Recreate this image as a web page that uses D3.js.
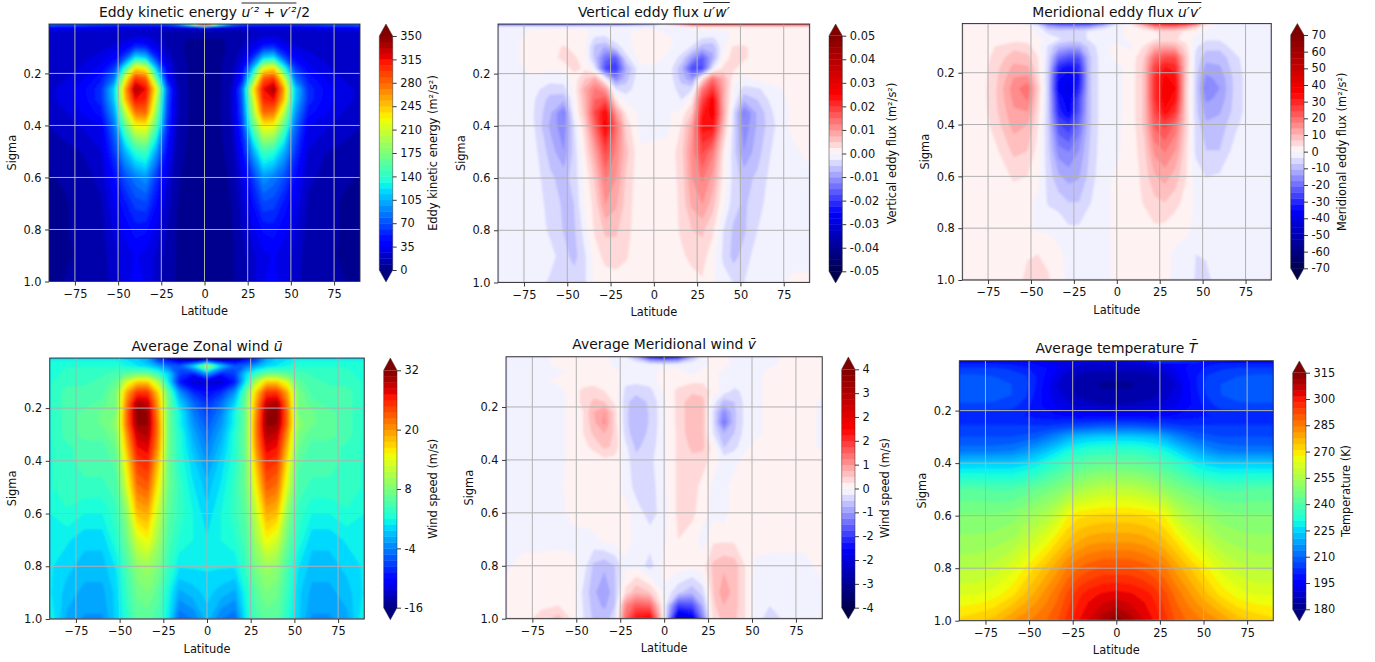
<!DOCTYPE html>
<html><head><meta charset="utf-8">
<script src="https://cdn.jsdelivr.net/npm/d3@7/dist/d3.min.js"></script>
<style>html,body{margin:0;padding:0;background:#fff}svg{display:block}text{font-family:"DejaVu Sans",sans-serif;fill:#111}</style>
</head><body><svg id="fig" width="1375" height="662"></svg>
<script>
// Axis nodes of the grids
const latitudes=[-90,-80,-70,-60,-52,-46,-40,-34,-28,-22,-16,-8,0,8,16,22,28,34,40,46,52,60,70,80,90];
const sigmaNodes=[.01,.02,.04,.07,.1,.14,.18,.22,.26,.3,.35,.4,.5,.6,.7,.8,.9,1];
const meridionalWindSigma=[.01,.02,.04,.07,.1,.14,.18,.22,.26,.3,.35,.4,.5,.6,.7,.8,.9,.95,1];
const latTicks=[-75,-50,-25,0,25,50,75];
const sigmaTicks=[.2,.4,.6,.8,1];

// Eddy kinetic energy (m2/s2)
const ekeValues=[
[90,85,80,75,70,70,70,70,75,80,100,180,360,180,100,80,75,70,70,70,70,75,80,85,90],
[45,42,40,38,35,35,35,35,32,30,30,35,40,35,30,30,32,35,35,35,35,38,40,42,45],
[25,24,22,20,20,20,20,20,18,15,12,12,14,12,12,15,18,20,20,20,20,20,22,24,25],
[22,20,20,20,22,26,32,30,24,14,10,8,8,8,10,14,24,30,32,26,22,20,20,20,22],
[20,20,22,24,28,38,60,56,32,18,10,7,6,7,10,18,32,56,60,38,28,24,22,20,20],
[20,22,24,30,42,70,125,115,60,26,12,7,5,7,12,26,60,115,125,70,42,30,24,22,20],
[20,22,28,38,65,140,235,220,110,38,14,7,5,7,14,38,110,220,235,140,65,38,28,22,20],
[22,26,34,50,85,215,300,285,165,50,16,6,5,6,16,50,165,285,300,215,85,50,34,26,22],
[24,30,42,58,120,255,340,315,225,80,20,6,5,6,20,80,225,315,340,255,120,58,42,30,24],
[24,30,40,58,115,245,315,305,205,75,20,6,5,6,20,75,205,305,315,245,115,58,40,30,24],
[22,26,36,48,100,200,275,280,185,70,20,6,5,6,20,70,185,280,275,200,100,48,36,26,22],
[18,22,28,35,85,165,225,230,160,62,18,6,5,6,18,62,160,230,225,165,85,35,28,22,18],
[12,15,18,26,65,105,140,150,100,45,14,5,5,5,14,45,100,150,140,105,65,26,18,15,12],
[8,10,14,20,45,70,85,95,62,30,10,5,5,5,10,30,62,95,85,70,45,20,14,10,8],
[6,8,12,16,35,50,65,68,45,22,9,5,5,5,9,22,45,68,65,50,35,16,12,8,6],
[6,8,12,14,28,38,48,46,32,18,8,5,5,5,8,18,32,46,48,38,28,14,12,8,6],
[6,8,10,12,24,30,36,32,24,14,8,6,6,6,8,14,24,32,36,30,24,12,10,8,6],
[8,9,10,12,22,30,38,34,22,12,8,6,6,6,8,12,22,34,38,30,22,12,10,9,8]];

// Vertical eddy flux, in thousandths of m2/s2
const verticalFluxMilli=[
[-22,-22,-22,-22,-22,-22,-20,-18,-18,-18,-16,-12,-8,5,12,22,25,25,25,25,25,25,25,25,25],
[-1,-1,-1,-1,-1,-1,-1,-2,-1.5,-1,-1,-.5,-.5,-.5,-.5,.5,1,1,1,1,1,1,1,1,1],
[-1,-1,.5,.8,.8,.8,.5,-.8,-1.5,-1,-.5,.5,.5,-.3,-.5,-.5,-.5,-.5,-.5,.5,.8,.8,.8,.8,.8],
[-1,-.5,1,1,1,1,.8,-3.5,-3.5,-1.5,-.5,1,1,.3,-.5,-1,-3,-3.5,-.5,.5,1,1,1,1,1],
[-1,-.3,1,1,3,1.5,.5,-6,-8,-4.5,-1,1,1,.3,-1,-3,-7,-7,-.5,3,3,1,1,1,1],
[-.8,-.3,1,1,3.5,3,1,-6,-14,-16,-3.5,.8,.8,-.3,-3.5,-10,-16,-8,1,3.5,3,1,1,1,1],
[-.8,-.5,.8,.5,.8,3.5,2,-2.5,-18,-20,-8,-.6,-.5,-.5,-7,-18,-18,-2.6,3,3,1,.8,.8,.8,.8],
[-.5,-.5,-.5,-1.5,-1.5,1,5,8,-1,-12,-6,-.5,-.5,-.5,-6,-10,3,14,8,1,-.5,.5,.8,.8,.8],
[-.5,-.5,-1.5,-4,-3.5,.8,8,13,10,-2.6,-4,-.5,-.5,-.5,-4,-3,13,20,9,-.5,-3.5,-3,-.5,.5,.5],
[-.5,-.5,-2,-6,-7,0,7,15,17,2.6,-.8,-.5,-.5,-.5,-2.6,1.5,18,26,8,-.5,-7,-5,-1,.5,.5],
[-.5,-.5,-2.2,-7,-13,-.5,6,18,25,10,2,-.5,-.5,-.5,1,5,22,27,9,-3.5,-13,-7,-2,.5,.5],
[-.5,-.5,-2,-8,-12,-3,4,15,26,15,4,-.5,-.5,-.5,2.6,9,24,24,7,-3.5,-12,-7,-2.6,.5,.5],
[-.5,-.5,-1.2,-6,-10,-4,2,9,18,12,6,.2,.4,.6,4,11,18,13,2.6,-4,-10,-6,-1.5,-.5,.5],
[-.5,-.5,-.8,-4.5,-6,-4,.4,5.5,13,10,4.5,.6,.6,.6,3.5,10,13,9,1.6,-3.5,-6,-4.5,-.8,-.5,-.5],
[-.5,-.5,-.7,-3.5,-5.5,-5,.2,3.5,10,8,4,.6,.6,.6,3.2,8,10,6,.3,-4,-5.5,-3.5,-.6,-.5,-.5],
[-.5,-.5,-.5,-3,-5.2,-5.5,-1.5,3,5.5,5.5,3.5,.6,.6,.6,3,5,5.5,3,-2.5,-5.5,-5.5,-2.5,-.5,-.5,-.5],
[-.5,-.5,-.5,-1.5,-4,-6,-3,1,3.5,3.5,2.8,.6,.6,.6,2,3.2,3.5,.8,-3,-6,-4,-1,-.5,-.5,-.5],
[-.5,-.5,-.5,-3,-3.5,-3.5,-3,.5,.8,1.5,1,.5,.5,.5,1,1.5,2.2,.3,-1.5,-2.6,-2.6,-.5,-.5,.3,.3]];

// Meridional eddy flux (m2/s2)
const meridionalFluxValues=[
[.7,.7,.7,.7,-3,-10,-25,-30,-30,-30,-30,-20,-5,3,20,30,35,35,35,25,5,-.7,-.7,-.7,-.7],
[.7,.7,.7,.7,.7,-3,-12,-15,-16,-16,-15,-8,-2,2,8,18,20,20,15,8,1,-.7,-.7,-.7,-.7],
[.7,.7,.7,.7,.7,-.7,-5,-6,-5,-5,-3,-1,-.7,.7,1,3,5,5,3,1,-.7,-.7,-.7,-.7,-.7],
[.7,.7,1,2,2,.7,-1,-3,-5,-5,-3,-.7,-.7,.7,1,3,4,4,2,-1,-3,-3,-1,-.7,-.7],
[.7,.7,3.8,6,5,1,-4,-10,-12,-12,-6,-1,.7,-.7,4,10,12,11,5,-3,-6,-6,-1.2,-.7,-.7],
[.7,1,5,9,8,3.5,-5,-20,-24,-24,-8,-1,.7,1,7,20,24,24,8,-4.5,-9,-9,-4,-.7,-.7],
[.7,1,6,11.5,11,4,-6,-30,-34,-30,-8,-1,-.7,1,8,26,32,30,8,-5,-12,-11,-4.5,-.7,-.7],
[.7,1,6.5,14,15,5,-7,-34,-38,-32,-8,-1,-.7,1,8,28,36,33,8,-6,-15,-13,-5,-.7,-.7],
[.7,1,7,16,20,7,-7,-36,-40,-30,-8,-1,-.7,1,8,28,37,35,7,-6,-18,-14,-5,-.7,-.7],
[.7,1,7,15,18,6,-7,-32,-38,-25,-8,-1,-.7,1,8,28,37,33,7,-6,-15,-13,-5,-.7,-.7],
[.7,.8,6.5,13.5,14,5,-7,-30,-36,-24,-8,-1,-.7,1,8,25,34,28,7,-6,-12,-11,-5,-.7,-.7],
[.7,.7,5.5,12,10.5,3.5,-7,-24,-28,-20,-8,-1,-.5,1,8,22,26,20,7,-5,-10,-9,-4,-.7,-.7],
[.7,.7,3,8,7,2,-6,-16,-18,-14,-7,-1,-.4,1,6,15,18,14,5,-4.5,-7,-7,-1.5,-.7,-.7],
[.7,.7,.9,4.2,3.5,.8,-5,-10,-12,-11,-6,-.7,.4,.7,5,10,12,9,4,-1.5,-3.7,-3,-.7,-.7,-.7],
[.7,.7,.7,.7,.7,-.7,-4,-5,-7,-7,-4,-.7,.5,.7,4,6,7,5,2,-.7,-.7,-.7,-.7,-.7,-.7],
[.7,.7,.7,.7,.7,-.7,-.7,-1,-3,-3,-.7,-.7,.5,.7,1,3,2.5,1,.7,-.7,-.7,-.7,-.7,-.7,-.7],
[.7,.7,.7,.7,3,3.5,2.5,.6,-.7,-.7,-.7,-.7,.5,.7,.7,.7,.7,-.5,-1,-3.5,-3,-.7,-.7,-.7,-.7],
[.7,.7,.7,.8,5,6,4,.7,-.5,-.7,-.7,-.7,.5,.7,.7,.7,.5,-.5,-1,-4,-5,-1,-.7,-.7,-.7]];

// Average zonal wind (m/s)
const zonalWindValues=[
[1,1,1,1,1,0,0,-1,-6,-12,-15,-15,-15,-15,-15,-12,-6,-1,0,0,1,1,1,1,1],
[2,2,2,2,2,1,0,-2,-7,-9,-12,-13,-10,-13,-12,-9,-7,-2,0,1,2,2,2,2,2],
[2,3,3,3,3,2,1,0,-2,-5,-6,0,11,0,-6,-5,-2,0,1,2,3,3,3,3,2],
[2,4,4,4,5,6,7,7,4,0,-7,-9,-3,-9,-7,0,4,7,7,6,5,4,4,4,2],
[3,4,4,5,6,13,17,17,11,1,-9,-13,-13,-13,-9,1,11,17,17,13,6,5,4,4,3],
[3,5,5,5,8,19,25,25,17,6,-3,-8,-10,-8,-3,6,17,25,25,19,8,5,5,5,3],
[3,5,5,6,8,21,30,29,19,7,0,-5,-8,-5,0,7,19,29,30,21,8,6,5,5,3],
[3,5,6,7,8,22,32,31,20,7,2,-4,-7,-4,2,7,20,31,32,22,8,7,6,5,3],
[3,5,6,7,9,22,31,31,21,7,2,-3,-6,-3,2,7,21,31,31,22,9,7,6,5,3],
[3,5,6,6,8,20,29,30,21,7,3,-2,-5,-2,3,7,21,30,29,20,8,6,6,5,3],
[3,4,5,5,7,18,27,28,20,7,3,-1,-4,-1,3,7,20,28,27,18,7,5,5,4,3],
[3,4,5,5,6,16,25,26,18,7,3,0,-3,0,3,7,18,26,25,16,6,5,5,4,3],
[3,4,4,4,5,13,22,23,15,7,4,1,-1,1,4,7,15,23,22,13,5,4,4,4,3],
[2,3,2,2,4,9,18,19,12,6,4,2,0,2,4,6,12,19,18,9,4,2,2,3,2],
[1,1,0,0,3,7,13,15,10,5,3,2,1,2,3,5,10,15,13,7,3,0,0,1,1],
[1,0,-1,-1,1,5,9,10,8,4,1,1,1,1,1,4,8,10,9,5,1,-1,-1,0,1],
[1,-1,-2,-2,0,4,7,8,6,2,-2,-1,0,-1,-2,2,6,8,7,4,0,-2,-2,-1,1],
[2,-2,-3,-3,0,3,6,6,5,1,-5,-4,-1,-4,-5,1,5,6,6,3,0,-3,-3,-2,2]];

// Average meridional wind (m/s)
const meridionalWindValues=[
[-.1,-.1,-.1,.1,.1,.1,.1,.1,-.1,-.2,-.8,-2.5,-3,-2.5,-.8,.1,.1,.1,-.1,-.1,-.1,-.1,.1,.1,.1],
[-.1,-.1,-.1,.1,.1,.1,.1,.1,-.1,-.1,-.3,-1,-1.2,-1,-.3,-.1,.1,.1,-.1,-.1,-.1,-.1,.1,.1,.1],
[-.1,-.1,-.1,.1,.1,.1,.1,.1,-.1,-.1,-.1,-.1,-.1,-.1,-.1,-.1,.1,.1,-.1,-.1,-.1,-.1,.1,.1,.1],
[-.1,-.1,-.1,-.1,.1,.1,.1,.1,.1,-.1,-.1,-.1,.1,.1,-.1,.1,.1,-.1,-.1,-.1,-.1,.1,.1,.1,.1],
[-.1,-.1,-.1,.1,.1,.1,.1,.1,.1,-.15,-.15,-.1,.1,.1,.15,.15,.1,-.1,-.1,-.1,-.1,.1,.1,.1,.1],
[-.1,-.1,-.1,-.1,.1,.25,.3,.2,.1,-.25,-.32,-.27,.05,.25,.35,.35,.1,-.1,-.25,-.15,-.1,.1,.1,.1,.1],
[-.1,-.1,-.1,-.1,.1,.25,.45,.4,.15,-.32,-.55,-.35,-.05,.27,.55,.45,-.1,-.5,-.4,-.15,-.1,.1,.1,.1,-.05],
[-.1,-.1,-.1,-.1,.1,.2,.6,.8,.3,-.35,-.55,-.38,-.05,.27,.55,.45,-.25,-.9,-.45,-.15,-.1,.1,.1,.1,-.05],
[-.1,-.1,-.1,-.1,.1,.2,.55,.85,.3,-.35,-.55,-.38,-.05,.27,.55,.45,-.25,-1.1,-.45,-.15,-.1,.1,.1,.1,-.05],
[-.1,-.1,-.1,-.1,.1,.2,.45,.6,.35,-.3,-.55,-.35,-.05,.25,.55,.45,-.2,-.6,-.4,-.12,-.1,.1,.1,.1,-.05],
[-.1,-.1,-.1,-.1,.1,.15,.25,.45,.35,-.15,-.45,-.3,-.05,.25,.45,.45,.1,-.42,-.25,-.1,.1,.1,.1,.1,-.05],
[-.1,-.1,-.1,-.1,.1,.1,.1,.15,.12,-.1,-.35,-.25,-.05,.25,.35,.3,.1,-.1,-.1,.1,.1,.1,.1,.1,.1],
[-.1,-.1,-.1,-.05,.1,.1,.1,.1,.1,-.08,-.28,-.3,-.05,.25,.3,.12,-.05,-.08,.1,.1,.1,.1,.1,.1,.1],
[-.1,-.1,-.1,-.08,.08,.1,.1,.1,.1,.08,-.1,-.3,-.1,.25,.25,.08,-.05,-.1,.1,.1,.1,.1,.1,.1,.1],
[-.1,-.1,-.1,-.1,-.1,-.08,-.05,.05,.1,.1,-.08,-.1,-.05,.2,.1,-.1,.15,.15,.15,.1,.1,.1,.1,.1,.1],
[-.05,.1,.1,.15,.1,-.1,-.45,-.55,-.4,-.05,-.05,-.3,.08,.1,.05,.1,.45,.55,.5,.2,-.05,-.1,-.1,-.1,.1],
[.1,.1,.1,.15,.1,-.25,-.55,-.8,-.45,.25,.55,.4,-.05,-.35,-.55,-.3,.4,.75,.5,.2,-.08,-.15,-.1,-.1,-.1],
[.1,.1,.15,.2,.1,-.22,-.5,-.65,-.4,.9,1.3,1.2,-.05,-1.5,-1.4,-.6,.35,.6,.5,.2,-.08,-.2,-.1,-.1,-.1],
[.1,.1,.3,.5,.15,-.2,-.45,-.5,-.3,1.2,1.9,2.1,0,-2.6,-2.2,-1,.3,.45,.45,.2,-.1,-.3,-.15,-.1,-.1]];

// Average temperature (K)
const temperatureValues=[
[194,194,194,194,194,193,192,192,192,192,192,192,192,194,200,206,208,208,206,204,200,196,194,194,194],
[200,200,200,199,198,196,195,193,192,191,190,190,190,190,191,192,193,195,196,198,199,200,200,200,200],
[204,204,204,203,201,199,197,194,191,189,188,188,188,188,188,189,191,194,197,199,201,203,204,204,204],
[208,208,207,206,204,200,196,192,188,186,185,184,184,184,185,186,188,192,196,200,204,206,207,208,208],
[210,210,209,207,205,200,195,190,188,185,184,183,183,183,184,185,188,190,195,200,205,207,209,210,210],
[210,210,209,207,204,199,195,191,189,186,185,184,184,184,185,186,189,191,195,199,204,207,209,210,210],
[206,206,206,205,202,198,196,193,191,189,188,187,187,187,188,189,191,193,196,198,202,205,206,206,206],
[201,201,201,201,200,199,198,197,197,196,196,196,196,196,196,196,197,197,198,199,200,201,201,201,201],
[204,204,204,204,204,204,204,205,206,207,208,209,209,209,208,207,206,205,204,204,204,204,204,204,204],
[207,207,207,207,208,209,212,215,219,222,223,224,224,224,223,222,219,215,212,209,208,207,207,207,207],
[212,212,212,213,216,219,222,226,230,232,234,235,235,235,234,232,230,226,222,219,216,213,212,212,212],
[224,224,224,224,226,228,232,235,238,240,242,243,243,243,242,240,238,235,232,228,226,224,224,224,224],
[241,241,240,240,242,244,246,248,251,254,256,258,258,258,256,254,251,248,246,244,242,240,240,241,241],
[248,248,248,249,252,254,256,260,267,270,271,272,272,272,271,270,267,260,256,254,252,249,248,248,248],
[252,252,253,255,259,262,266,271,275,278,280,281,281,281,280,278,275,271,266,262,259,255,253,252,252],
[257,257,259,263,268,272,276,280,285,288,290,292,292,292,290,288,285,280,276,272,268,263,259,257,257],
[264,264,266,270,275,279,283,287,292,297,300,302,303,302,300,297,292,287,283,279,275,270,266,264,264],
[272,274,276,281,284,286,288,291,296,301,305,310,314,310,305,301,296,291,288,286,284,281,276,274,272]];

// Colour-bar ticks
const ekeTicks=[0,35,70,105,140,175,210,245,280,315,350];
const verticalTicks=[-50,-40,-30,-20,-10,0,10,20,30,40,50];
const verticalTickLabels=["-0.05","-0.04","-0.03","-0.02","-0.01","0.00","0.01","0.02","0.03","0.04","0.05"];
const meridionalFluxTicks=[-70,-60,-50,-40,-30,-20,-10,0,10,20,30,40,50,60,70];
const zonalTicks=[-16,-4,8,20,32];
const meridionalWindTicks=[-4,-3.2,-2.4,-1.6,-.8,0,.8,1.6,2.4,3.2,4];
const meridionalWindTickLabels=["-4","-3","-2","-2","-1","0","1","2","2","3","4"];
const temperatureTicks=[180,195,210,225,240,255,270,285,300,315];

// Colour maps (matplotlib jet and seismic)
const jetR=d3.scaleLinear([0,.35,.66,.89,1],[0,0,1,1,.5]);
const jetG=d3.scaleLinear([0,.125,.375,.64,.91,1],[0,0,1,1,0,0]);
const jetB=d3.scaleLinear([0,.11,.34,.65,1],[.5,1,1,0,0]);
const jet=t=>d3.rgb(jetR(t)*255,jetG(t)*255,jetB(t)*255).formatRgb();
const seismicScale=d3.scaleLinear([0,.25,.5,.75,1],["rgb(0,0,77)","rgb(0,0,255)","rgb(255,255,255)","rgb(255,0,0)","rgb(128,0,0)"]);
const seismic=t=>seismicScale(t);

const panels=[
{values:ekeValues,vmin:0,vmax:350,cmap:jet,ticks:ekeTicks,label:"Eddy kinetic energy (m²/s²)",
 title:[["Eddy kinetic energy "],["u′² + v′²","over"],["/2"]],
 box:[49,360,24,281.5],titleY:17,cb:[379.3,392.7,36,270,24,282],cbLabelX:433},
{values:verticalFluxMilli,vmin:-50,vmax:50,cmap:seismic,ticks:verticalTicks,tickLabels:verticalTickLabels,label:"Vertical eddy flux (m²/s²)",
 title:[["Vertical eddy flux "],["u′w′","over"]],
 box:[498,809.7,24,282.5],titleY:16.5,cb:[829,842.3,35.7,271.3,24,283],cbLabelX:892},
{values:meridionalFluxValues,vmin:-70,vmax:70,cmap:seismic,ticks:meridionalFluxTicks,label:"Meridional eddy flux (m²/s²)",
 title:[["Meridional eddy flux "],["u′v′","over"]],
 box:[962.3,1271.3,23.5,280],titleY:16.5,cb:[1290.7,1304,35,268.3,23.5,280],cbLabelX:1342},
{values:zonalWindValues,vmin:-16,vmax:32,cmap:jet,ticks:zonalTicks,label:"Wind speed (m/s)",
 title:[["Average Zonal wind "],["ū","math"]],
 box:[49.7,364.3,358,619],titleY:351,cb:[383.7,397,370.3,607.7,358,619.7],cbLabelX:433},
{values:meridionalWindValues,sigma:meridionalWindSigma,vmin:-4,vmax:4,cmap:seismic,ticks:meridionalWindTicks,tickLabels:meridionalWindTickLabels,label:"Wind speed (m/s)",
 title:[["Average Meridional wind "],["v̄","math"]],
 box:[506,822.3,356.7,618.7],titleY:349,cb:[841.7,855,369.3,607.7,357,619],cbLabelX:885},
{values:temperatureValues,vmin:180,vmax:315,cmap:jet,ticks:temperatureTicks,label:"Temperature (K)",
 title:[["Average temperature "],["T̄","math"]],
 box:[959.3,1273.3,360.7,620.7],titleY:353,cb:[1292.7,1306,372.7,609.3,361,621],cbLabelX:1346}
];

const svg=d3.select("#fig");
const defs=svg.append("defs");
defs.append("filter").attr("id","soft").attr("x","-5%").attr("y","-5%").attr("width","110%").attr("height","110%")
  .append("feGaussianBlur").attr("stdDeviation",.9);

const nx=latitudes.length;
const idxToLat=d3.scaleLinear().domain(d3.range(nx)).range(latitudes).clamp(true);
const BANDS=40, TICK=11.4;

panels.forEach((p,pi)=>{
  const [x0,x1,y0,y1]=p.box;
  const sigma=p.sigma||sigmaNodes, ny=sigma.length;
  const idxToSigma=d3.scaleLinear().domain(d3.range(ny)).range(sigma).clamp(true);
  const xS=d3.scaleLinear([-90,90],[x0,x1]);
  const yS=d3.scaleLinear([.01,1],[y0,y1]);
  const levels=d3.range(BANDS+1).map(i=>p.vmin+i*(p.vmax-p.vmin)/BANDS);
  const norm=d3.scaleLinear([p.vmin,p.vmax],[0,1]);
  const bandColor=k=>k>=BANDS?p.cmap(1):p.cmap(norm((levels[k]+levels[k+1])/2));
  const g=svg.append("g");
  const clipId="clip"+pi;
  defs.append("clipPath").attr("id",clipId).append("rect").attr("x",x0).attr("y",y0).attr("width",x1-x0).attr("height",y1-y0);

  const contourGen=d3.contours().size([nx,ny]).thresholds(levels);
  const projection=d3.geoTransform({point(x,y){this.stream.point(xS(idxToLat(x-.5)),yS(idxToSigma(y-.5)));}});
  const path=d3.geoPath(projection);
  const clipG=g.append("g").attr("clip-path",`url(#${clipId})`);
  clipG.append("rect").attr("x",x0).attr("y",y0).attr("width",x1-x0).attr("height",y1-y0).attr("fill",bandColor(0));
  clipG.append("g").attr("filter","url(#soft)").selectAll("path").data(contourGen(p.values.flat())).join("path")
    .attr("d",path).attr("fill",(d,i)=>bandColor(i)).attr("stroke",(d,i)=>bandColor(i)).attr("stroke-width",.3);

  // grid
  const grid=g.append("g").attr("stroke","#b0b0b0").attr("stroke-width",1).attr("fill","none");
  grid.selectAll("line.v").data(latTicks).join("line").attr("class","v").attr("x1",d=>xS(d)).attr("x2",d=>xS(d)).attr("y1",y0).attr("y2",y1);
  grid.selectAll("line.h").data(sigmaTicks).join("line").attr("class","h").attr("y1",d=>yS(d)).attr("y2",d=>yS(d)).attr("x1",x0).attr("x2",x1);

  // axes
  const fmtLat=d=>d<0?"−"+Math.abs(d):String(d);
  const styleAxis=a=>{a.selectAll("text").style("font-size",TICK+"px").style("font-family",'"DejaVu Sans"').attr("fill","#111");
    a.selectAll("line").attr("stroke","#222").attr("stroke-width",.9);a.select(".domain").remove();};
  g.append("g").attr("transform",`translate(0,${y1})`).call(d3.axisBottom(xS).tickValues(latTicks).tickFormat(fmtLat).tickSize(4).tickPadding(4)).call(styleAxis);
  g.append("g").attr("transform",`translate(${x0},0)`).call(d3.axisLeft(yS).tickValues(sigmaTicks).tickFormat(d3.format(".1f")).tickSize(4).tickPadding(3.5)).call(styleAxis);
  g.append("rect").attr("x",x0).attr("y",y0).attr("width",x1-x0).attr("height",y1-y0).attr("fill","none").attr("stroke","#333").attr("stroke-width",.9);

  g.append("text").attr("x",(x0+x1)/2).attr("y",y1+33.5).attr("text-anchor","middle").style("font-size",TICK+"px").text("Latitude");
  g.append("text").attr("transform",`translate(${x0-33.5},${(y0+y1)/2}) rotate(-90)`).attr("text-anchor","middle").style("font-size",TICK+"px").text("Sigma");

  // title with math parts
  const title=g.append("text").attr("x",(x0+x1)/2).attr("y",p.titleY).attr("text-anchor","middle").style("font-size","13.9px");
  const spans=p.title.map(([t,kind])=>{const s=title.append("tspan").text(t);if(kind)s.style("font-style","italic");return {s,kind};});
  spans.filter(d=>d.kind==="over").forEach(d=>{
    const n=d.s.node(), a=n.getStartPositionOfChar(0), b=n.getEndPositionOfChar(n.getNumberOfChars()-1);
    g.append("line").attr("x1",a.x).attr("x2",b.x).attr("y1",p.titleY-14).attr("y2",p.titleY-14).attr("stroke","#111").attr("stroke-width",.9);
  });

  // colour bar
  const [cx0,cx1,cTop,cBot,tipTop,tipBot]=p.cb;
  const cS=d3.scaleLinear([p.vmin,p.vmax],[cBot,cTop]);
  const cbG=g.append("g");
  cbG.selectAll("rect").data(d3.range(BANDS)).join("rect").attr("x",cx0).attr("width",cx1-cx0)
    .attr("y",k=>cS(levels[k+1])).attr("height",k=>cS(levels[k])-cS(levels[k+1])+.4).attr("fill",k=>bandColor(k));
  cbG.append("path").attr("d",`M${cx0},${cTop}L${(cx0+cx1)/2},${tipTop}L${cx1},${cTop}Z`).attr("fill",p.cmap(1));
  cbG.append("path").attr("d",`M${cx0},${cBot}L${(cx0+cx1)/2},${tipBot}L${cx1},${cBot}Z`).attr("fill",p.cmap(0));
  cbG.append("path").attr("d",`M${cx0},${cTop}L${(cx0+cx1)/2},${tipTop}L${cx1},${cTop}L${cx1},${cBot}L${(cx0+cx1)/2},${tipBot}L${cx0},${cBot}Z`)
    .attr("fill","none").attr("stroke","#333").attr("stroke-width",.5);
  const cAxis=d3.axisRight(cS).tickValues(p.ticks).tickSize(4).tickPadding(3.5)
    .tickFormat((d,i)=>p.tickLabels?p.tickLabels[i]:String(d));
  g.append("g").attr("transform",`translate(${cx1},0)`).call(cAxis).call(styleAxis);
  g.append("text").attr("transform",`translate(${p.cbLabelX},${(tipTop+tipBot)/2}) rotate(-90)`).attr("text-anchor","middle").attr("dominant-baseline","middle")
    .style("font-size",TICK+"px").text(p.label);
});
</script></body></html>
